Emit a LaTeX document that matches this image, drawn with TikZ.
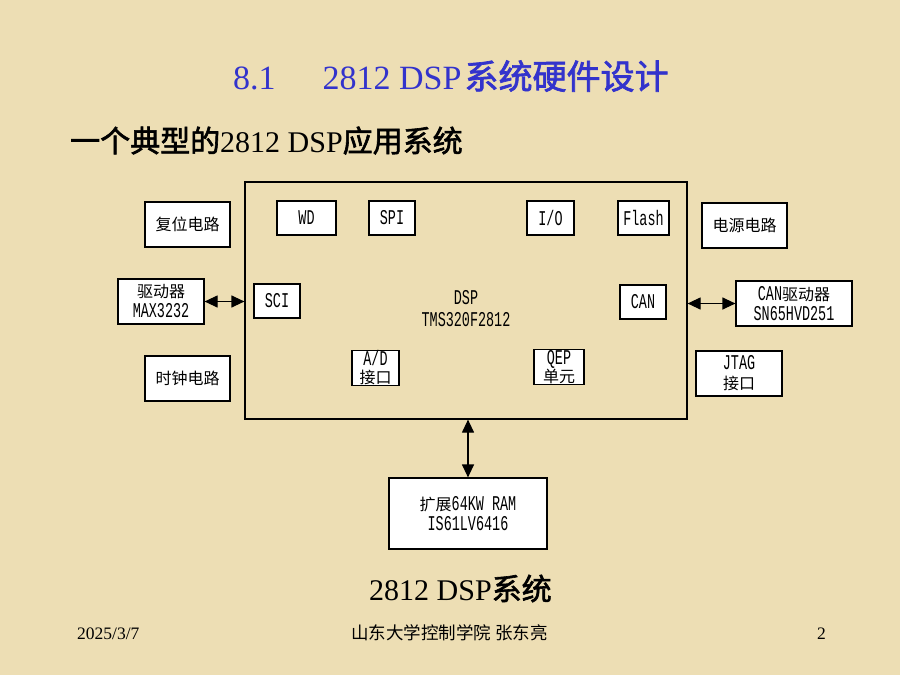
\documentclass[tikz,border=0pt]{standalone}
\usepackage{fontspec}
\setmainfont{Liberation Serif}
\newfontfamily\cjk{Noto Sans CJK SC}
\newfontfamily\cjkb{Noto Sans CJK SC}[FakeBold=2]
\newfontfamily\boxlat{Liberation Mono}[FakeStretch=0.64]
\usetikzlibrary{arrows.meta}
\definecolor{parch}{RGB}{237,222,180}
\definecolor{titleblue}{RGB}{51,51,204}
\newcommand{\zhtxt}[1]{{\fontsize{16}{20}\selectfont\cjk #1}}
\begin{document}
\begin{tikzpicture}[x=1pt,y=-1pt,
  blk/.style={draw=black, line width=1.2pt, fill=white, inner sep=0pt, align=center,
    font=\fontsize{21}{20}\selectfont\boxlat},
  biarrow/.style={{Triangle[length=13pt,width=12pt]}-{Triangle[length=13pt,width=12pt]}, line width=1.2pt},
  txt/.style={inner sep=0pt, anchor=base west},
]
\fill[parch] (0,0) rectangle (900,675);
\useasboundingbox (0,0) rectangle (900,675);

% titles
\node[txt, text=titleblue, font=\fontsize{34}{36}\selectfont] (title) at (233,89)
  {8.1\hspace{47pt}2812 DSP{\cjkb\hspace{3pt}系统硬件设计}};
\node[txt, font=\fontsize{30}{36}\selectfont] (subtitle) at (70,152)
  {{\cjkb 一个典型的}2812 DSP{\cjkb 应用系统}};

% DSP main box
\node[draw=black, line width=1.2pt, minimum width=442, minimum height=237, inner sep=0pt] (dsp) at (466,300.5) {};
\node[align=center, inner sep=0pt, font=\fontsize{21}{22}\selectfont\boxlat] (dsplabel) at (466,309) {DSP\\TMS320F2812};

% inner blocks
\node[blk, minimum width=59, minimum height=34] (wd) at (306.5,218) {WD};
\node[blk, minimum width=46, minimum height=34] (spi) at (392,218) {SPI};
\node[blk, minimum width=46, minimum height=34] (sci) at (277,301) {SCI};
\node[blk, minimum width=47, minimum height=35, font=\fontsize{21}{18}\selectfont\boxlat] (ad) at (375.5,368) {A/D\\\zhtxt{接口}};
\node[blk, minimum width=47, minimum height=34] (io) at (550.5,218) {I/O};
\node[blk, minimum width=51, minimum height=34] (flash) at (643.5,218) {Flash};
\node[blk, minimum width=46, minimum height=34] (can) at (643,302) {CAN};
\node[blk, minimum width=50, minimum height=35, font=\fontsize{21}{18}\selectfont\boxlat] (qep) at (559,367) {QEP\\\zhtxt{单元}};

% outer blocks
\node[blk, minimum width=85, minimum height=45] (reset) at (187.5,224.5) {\zhtxt{复位电路}};
\node[blk, minimum width=86, minimum height=45] (max) at (161,301.5) {\zhtxt{驱动器}\\MAX3232};
\node[blk, minimum width=85, minimum height=45] (clock) at (187.5,378.5) {\zhtxt{时钟电路}};
\node[blk, minimum width=85, minimum height=45] (power) at (744.5,225.5) {\zhtxt{电源电路}};
\node[blk, minimum width=116, minimum height=45] (candrv) at (794,303.5) {CAN\zhtxt{驱动器}\\SN65HVD251};
\node[blk, minimum width=86, minimum height=45] (jtag) at (739,373.5) {JTAG\\\zhtxt{接口}};
\node[blk, minimum width=158, minimum height=71] (ram) at (468,513.5) {\zhtxt{扩展}64KW RAM\\IS61LV6416};

% connectors
\draw[biarrow] (max.east) -- (max.east -| dsp.west);
\draw[biarrow] (candrv.west) -- (candrv.west -| dsp.east);
\draw[biarrow] (ram.north) -- (ram.north |- dsp.south);

% caption and footer
\node[txt, font=\fontsize{30}{36}\selectfont] (caption) at (369,600) {2812 DSP{\cjkb 系统}};
\node[txt, font=\fontsize{17.5}{20}\selectfont] (date) at (77,639) {2025/3/7};
\node[txt, font=\fontsize{17.5}{20}\selectfont\cjk] (author) at (351,639) {山东大学控制学院 张东亮};
\node[txt, font=\fontsize{17.5}{20}\selectfont] (page) at (817,639) {2};
\end{tikzpicture}
\end{document}
